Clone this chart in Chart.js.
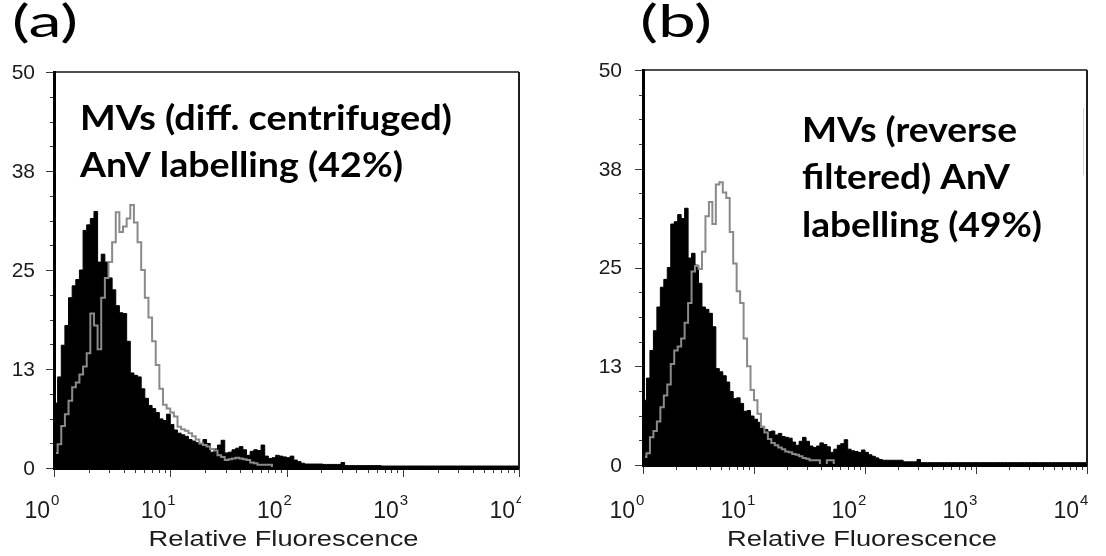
<!DOCTYPE html>
<html>
<head>
<meta charset="utf-8">
<script src="https://cdn.jsdelivr.net/npm/chart.js@4.4.1/dist/chart.umd.min.js"></script>
<style>
  html, body { margin: 0; padding: 0; background: #fff; }
  #wrap { position: relative; width: 1106px; height: 556px; overflow: hidden; }
  canvas { position: absolute; top: 0; }
</style>
</head>
<body>
<div id="wrap">
  <canvas id="chartA" width="553" height="556" style="left:0"></canvas>
  <canvas id="chartB" width="553" height="556" style="left:553px"></canvas>
</div>
<script>
/* ── Histogram data (counts per channel, 32 channels per decade) ───────── */
const BINS_PER_DECADE = 32;

// (a) MVs diff. centrifuged: black = control, grey = AnV
const controlA = [
  14.5, 8.2, 11.5, 15.5, 18, 21.5, 23, 23.8, 25, 30, 30.7, 31.5, 32.4, 26, 27, 26,
  24, 22.5, 20.5, 19.6, 19.5, 16, 12, 11.7, 11.5, 10, 8.8, 7.9, 7.5, 7, 6.2, 6,
  6.8, 5.5, 4.8, 4.4, 4.2, 4, 3.6, 3.4, 3.2, 3.0, 3.6, 3.1, 2.0, 2.4, 2.9, 3.5,
  1.9, 2.0, 2.3, 2.5, 2.7, 2.3, 1.6, 2.1, 2.3, 2.2, 2.9, 1.5, 1.2, 1.3, 1.6, 1.5,
  1.4, 1.3, 1.5, 1.0, 0.8, 0.6, 0.5, 0.5, 0.5, 0.5, 0.5, 0.45, 0.45, 0.45, 0.45, 0.45,
  0.7, 0.3, 0.3, 0.3, 0.3, 0.3, 0.3, 0.3, 0.3, 0.3, 0.3, 0.25, 0.25, 0.25, 0.25, 0.25,
  0.25, 0.25, 0.25, 0.25, 0.25, 0.25, 0.25, 0.25, 0.25, 0.25, 0.25, 0.25, 0.25, 0.25, 0.25, 0.25,
  0.25, 0.25, 0.25, 0.25, 0.25, 0.25, 0.25, 0.25, 0.25, 0.25, 0.25, 0.25, 0.25, 0.25, 0.25, 0.25
];
const anvA = [
  5, 1.9, 3, 5.3, 6.8, 8.5, 10.2, 10.8, 11.8, 12.8, 14.5, 19.5, 18, 15, 21.5, 24,
  26, 28.5, 32.3, 29.8, 30.5, 31.5, 33.2, 31, 28.5, 25, 21.5, 19, 16, 13, 10, 8,
  7.5, 7, 6.5, 5.2, 4.9, 4.7, 4.4, 4.0, 3.6, 3.1, 2.9, 2.7, 2.4, 2.2, 1.6, 1.4,
  1.0, 1.1, 1.2, 1.3, 1.2, 1.1, 1.0, 0.7, 0.6, 0.4, 0.4, 0.4, 0.4, 0, 0, 0,
  0, 0, 0, 0, 0, 0, 0, 0, 0, 0, 0, 0, 0, 0, 0, 0,
  0, 0, 0, 0, 0, 0, 0, 0, 0, 0, 0, 0, 0, 0, 0, 0,
  0, 0, 0, 0, 0, 0, 0, 0, 0, 0, 0, 0, 0, 0, 0, 0,
  0, 0, 0, 0, 0, 0, 0, 0, 0, 0, 0, 0, 0, 0, 0, 0
];

// (b) MVs reverse filtered
const controlB = [
  14.6, 8.2, 11, 14.5, 17, 20, 22.5, 23.5, 25, 30.5, 30.8, 31.7, 31.2, 32.5, 26.2, 26.8,
  25.3, 23, 20, 19.7, 19.2, 17.5, 12.2, 11.8, 11.3, 10.5, 9.3, 8.4, 8.5, 7.8, 6.8, 6.9,
  6.2, 5.8, 5.4, 4.9, 4.5, 4.2, 4.3, 3.8, 4.0, 3.6, 3.5, 3.4, 2.9, 2.5, 3.0, 3.5,
  3.0, 2.4, 2.2, 2.4, 2.8, 2.6, 2.3, 1.6, 2.0, 2.5, 2.7, 3.2, 2.0, 1.8, 1.7, 1.6,
  1.9, 1.6, 1.3, 1.1, 0.9, 0.7, 0.6, 0.6, 0.6, 0.6, 0.6, 0.6, 0.4, 0.4, 0.4, 0.4,
  0.7, 0.3, 0.3, 0.3, 0.3, 0.3, 0.3, 0.3, 0.3, 0.3, 0.3, 0.3, 0.3, 0.3, 0.3, 0.3,
  0.3, 0.3, 0.3, 0.3, 0.3, 0.3, 0.3, 0.3, 0.3, 0.3, 0.3, 0.3, 0.3, 0.3, 0.3, 0.3,
  0.3, 0.3, 0.3, 0.3, 0.3, 0.3, 0.3, 0.3, 0.3, 0.3, 0.3, 0.3, 0.3, 0.3, 0.3, 0.3
];
const anvB = [
  3.2, 1.0, 1.5, 3.5, 4.3, 5.5, 7.3, 8.8, 10.2, 12.8, 14.5, 15, 16, 18, 20.5, 24.5,
  25.2, 24.8, 27, 31.5, 33.3, 30.5, 35.5, 35.8, 34.5, 33.8, 29.5, 25.5, 22, 20.5, 16, 12.5,
  9.5, 8.2, 6.5, 4.8, 4.1, 3.3, 2.8, 2.5, 2.2, 2.0, 1.7, 1.6, 1.4, 1.3, 1.1, 0.9,
  0.8, 0.6, 0.6, 0.6, 0, 0, 0.6, 0.6, 0, 0, 0, 0, 0, 0, 0, 0,
  0, 0, 0, 0, 0, 0, 0, 0, 0, 0, 0, 0, 0, 0, 0, 0,
  0, 0, 0, 0, 0, 0, 0, 0, 0, 0, 0, 0, 0, 0, 0, 0,
  0, 0, 0, 0, 0, 0, 0, 0, 0, 0, 0, 0, 0, 0, 0, 0,
  0, 0, 0, 0, 0, 0, 0, 0, 0, 0, 0, 0, 0, 0, 0, 0
];

/* ── Axis ticks ───────────────────────────────────────────────────────── */
const xTickExponents = [0, 1, 2, 3, 4];
const yTickValues = [0, 12.5, 25, 37.5, 50];
const yTickLabels = ["0", "13", "25", "38", "50"];
const yMinorStep = 3.125;
const xTitle = "Relative Fluorescence";

/* ── helpers ──────────────────────────────────────────────────────────── */
const toPoints = vals => {
  const pts = vals.map((v, k) => ({ x: 10 ** (k / BINS_PER_DECADE), y: v }));
  pts.push({ x: 10 ** (vals.length / BINS_PER_DECADE), y: vals[vals.length - 1] });
  return pts;
};

function fitText(ctx, txt, x, yb, w) {
  const m = ctx.measureText(txt).width;
  ctx.save();
  ctx.translate(x, yb);
  ctx.scale(w / m, 1);
  ctx.fillText(txt, 0, 0);
  ctx.restore();
}

/* ── frame / ticks / labels plugin ────────────────────────────────────── */
const frame = {
  id: "frame",
  afterDraw(chart, args, o) {
    const { ctx, chartArea: a, scales: { x, y } } = chart;
    ctx.save();

    // ticks
    ctx.strokeStyle = "#3a3a3a";
    ctx.lineWidth = 1;
    ctx.beginPath();
    for (let v = 0; v <= 50.01; v += yMinorStep) {
      const py = Math.round(y.getPixelForValue(v)) + 0.5;
      const major = yTickValues.some(t => Math.abs(t - v) < 0.01);
      ctx.moveTo(a.left - (major ? 8 : 4), py);
      ctx.lineTo(a.left, py);
    }
    xTickExponents.forEach(e => {
      const px = Math.round(x.getPixelForValue(10 ** e)) + 0.5;
      ctx.moveTo(px, a.bottom);
      ctx.lineTo(px, a.bottom + 9);
      if (e < 4) {
        for (let m = 2; m <= 9; m++) {
          const mx = Math.round(x.getPixelForValue(m * 10 ** e)) + 0.5;
          ctx.moveTo(mx, a.bottom);
          ctx.lineTo(mx, a.bottom + 5);
        }
      }
    });
    ctx.stroke();

    // frame: top + right thin, left + bottom thick
    ctx.strokeStyle = "#4d4d4d";
    ctx.lineWidth = 2;
    ctx.beginPath();
    ctx.moveTo(a.left, a.top);
    ctx.lineTo(a.right, a.top);
    ctx.stroke();
    ctx.strokeStyle = "#1e1e1e";
    ctx.beginPath();
    ctx.moveTo(a.right, a.top);
    ctx.lineTo(a.right, a.bottom);
    ctx.stroke();
    ctx.strokeStyle = "#000";
    ctx.lineWidth = 3;
    ctx.beginPath();
    ctx.moveTo(a.left + 0.5, a.top - 1);
    ctx.lineTo(a.left + 0.5, a.bottom + 0.5);
    ctx.lineTo(a.right, a.bottom + 0.5);
    ctx.stroke();

    if (o.artifact) {
      ctx.strokeStyle = "#d4d4d4";
      ctx.lineWidth = 1;
      ctx.beginPath();
      ctx.moveTo(o.artifact.x + 0.5, o.artifact.y1);
      ctx.lineTo(o.artifact.x + 0.5, o.artifact.y2);
      ctx.stroke();
    }

    // y tick labels
    ctx.fillStyle = "#1c1c1c";
    ctx.font = '21px "Liberation Sans", Arial, sans-serif';
    ctx.textAlign = "right";
    ctx.textBaseline = "middle";
    yTickValues.forEach((v, i) => {
      ctx.fillText(yTickLabels[i], a.left - o.yLabelGap, y.getPixelForValue(v) + 1);
    });

    // x tick labels 10^n
    ctx.save();
    if (o.clipRight) {
      ctx.beginPath();
      ctx.rect(0, 0, o.clipRight, chart.height);
      ctx.clip();
    }
    ctx.textBaseline = "alphabetic";
    xTickExponents.forEach(e => {
      const px = x.getPixelForValue(10 ** e) + o.xLabelShift;
      ctx.font = '23px "Liberation Sans", Arial, sans-serif';
      ctx.textAlign = "right";
      ctx.fillText("10", px, 518);
      ctx.font = '15px "Liberation Sans", Arial, sans-serif';
      ctx.textAlign = "left";
      ctx.fillText(String(e), px + 1, 505);
    });
    ctx.restore();

    // axis title
    ctx.font = '22px "Liberation Sans", Arial, sans-serif';
    ctx.textAlign = "left";
    ctx.textBaseline = "alphabetic";
    const tw = 270;
    fitText(ctx, xTitle, (a.left + a.right) / 2 - 3 - tw / 2, 546, tw);

    // panel letter
    ctx.fillStyle = "#000";
    ctx.font = '44px Lato, "Open Sans", sans-serif';
    fitText(ctx, o.panel.text, o.panel.x, o.panel.y, o.panel.w);

    // annotation
    ctx.font = 'bold 34px Lato, "Open Sans", sans-serif';
    o.notes.forEach(n => fitText(ctx, n.text, n.x, n.y, n.w));

    ctx.restore();
  }
};

function makeChart(id, control, anv, opts) {
  return new Chart(document.getElementById(id), {
    type: "line",
    data: {
      datasets: [
        {
          data: toPoints(anv),
          borderColor: "#8a8a8a",
          borderWidth: 2,
          fill: false,
          stepped: "after",
          pointRadius: 0
        },
        {
          data: toPoints(control),
          borderColor: "#000",
          backgroundColor: "#000",
          borderWidth: 1,
          fill: "origin",
          stepped: "after",
          pointRadius: 0
        }
      ]
    },
    options: {
      responsive: false,
      animation: false,
      events: [],
      layout: { padding: opts.padding },
      scales: {
        x: { type: "logarithmic", min: 1, max: 10000, display: false },
        y: { type: "linear", min: 0, max: 50, display: false }
      },
      plugins: {
        legend: { display: false },
        tooltip: { enabled: false },
        frame: opts
      }
    },
    plugins: [frame]
  });
}

makeChart("chartA", controlA, anvA, {
  padding: { left: 54, top: 72, right: 34, bottom: 88 },
  yLabelGap: 19,
  xLabelShift: -4,
  clipRight: 521,
  panel: { text: "(a)", x: 12, y: 37, w: 66 },
  notes: [
    { text: "MVs (diff. centrifuged)", x: 80, y: 130, w: 372 },
    { text: "AnV labelling (42%)", x: 80, y: 177, w: 323 }
  ]
});

makeChart("chartB", controlB, anvB, {
  padding: { left: 90, top: 70, right: 19, bottom: 91 },
  yLabelGap: 21,
  xLabelShift: -8,
  clipRight: 0,
  artifact: { x: 530, y1: 108, y2: 175 },
  panel: { text: "(b)", x: 87, y: 37, w: 72 },
  notes: [
    { text: "MVs (reverse", x: 249, y: 142, w: 215 },
    { text: "filtered) AnV", x: 249, y: 189, w: 208 },
    { text: "labelling (49%)", x: 249, y: 237, w: 240 }
  ]
});
</script>
</body>
</html>
